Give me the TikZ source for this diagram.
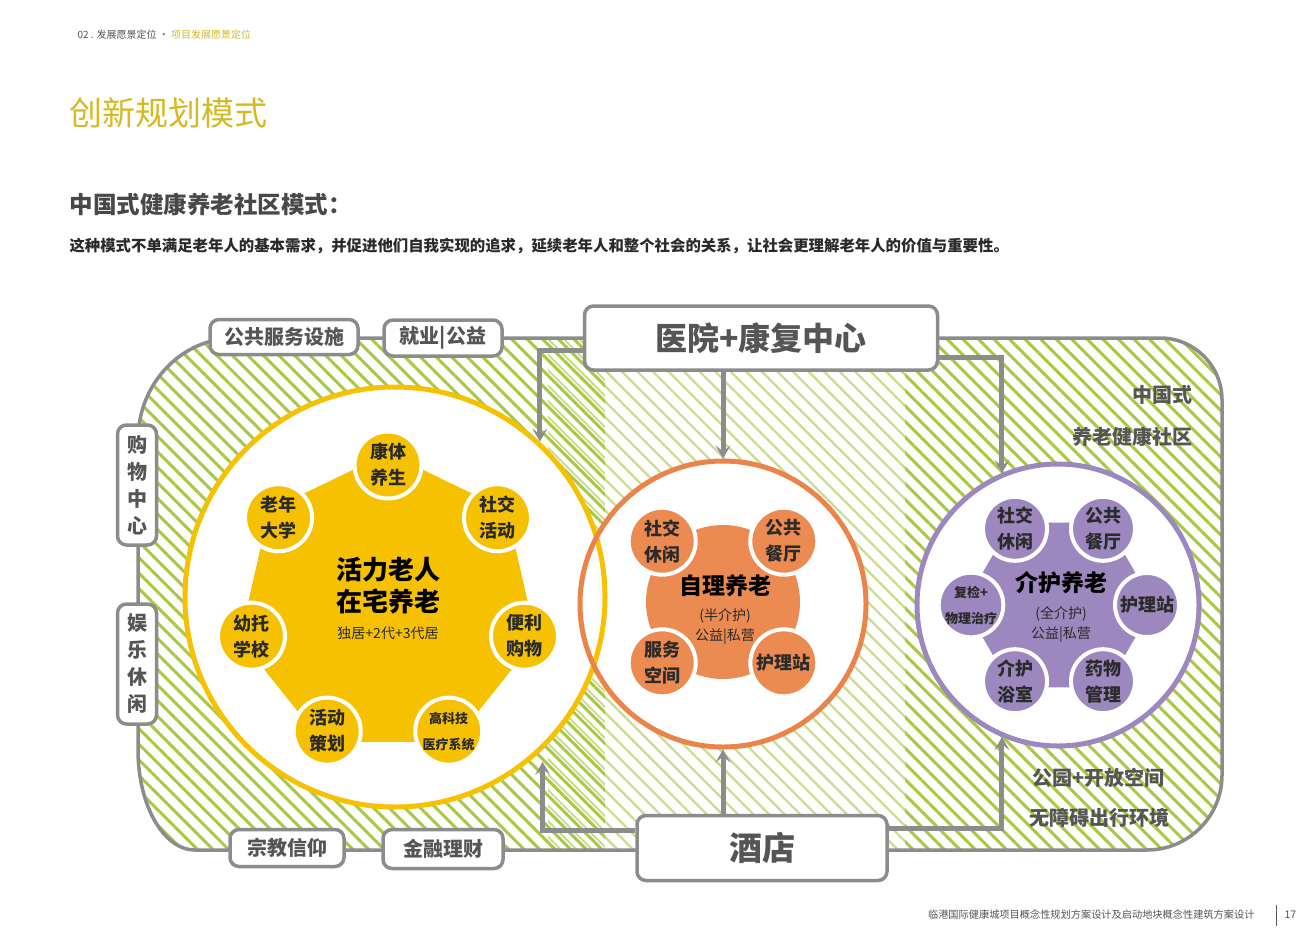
\documentclass[tikz,border=0pt]{standalone}
\usepackage{fontspec}
\setmainfont{Noto Sans CJK SC}
\usetikzlibrary{arrows.meta, patterns.meta, calc}

\definecolor{cgray}{HTML}{8C8C8C}
\definecolor{ctext}{HTML}{555555}
\definecolor{cdark}{HTML}{2A2A2A}
\definecolor{cgold}{HTML}{D6B923}
\definecolor{cyel}{HTML}{F6C100}
\definecolor{corange}{HTML}{EA8448}
\definecolor{cpurple}{HTML}{9C87BE}
\definecolor{chatch}{HTML}{A9C843}
\definecolor{chatchlt}{HTML}{C9DD8C}

\newcommand{\fsz}[2]{\fontsize{#1}{#2}\selectfont}
\newcommand{\sm}{\bfseries\fsz{13}{18}}
\newcommand{\communitypath}{(138,440) arc[start angle=180,end angle=270,x radius=97,y radius=102]
  -- (1160,338) arc[start angle=270,end angle=360,x radius=62,y radius=62]
  -- (1222,775) arc[start angle=0,end angle=90,x radius=75,y radius=75]
  -- (195,850) arc[start angle=90,end angle=180,x radius=57,y radius=100] -- cycle}

\begin{document}
\begin{tikzpicture}[
    x=1pt, y=-1pt,
    >={Stealth[length=13pt,width=15pt,inset=6pt]},
    flow/.style={->, cgray, line width=5pt},
    box/.style={draw=cgray, line width=3.5pt, fill=white, rounded corners=9pt,
      inner sep=0pt, text=ctext, font=\bfseries\fsz{20}{27}, align=center},
    ring/.style={circle, inner sep=0pt, line width=5pt},
    sat/.style={circle, draw=white, line width=4pt, inner sep=0pt, minimum size=#1,
      text=cdark, font=\bfseries\fsz{18}{26}, align=center},
    side/.style={text=ctext, font=\bfseries\fsz{20}{24}, anchor=east},
  ]
  \fill[white] (0,0) rectangle (1300,932);
  \useasboundingbox (0,0) rectangle (1300,932);

  %% ---- page heading -------------------------------------------------
  \node[anchor=west, text=ctext, font=\fsz{10}{12}] (crumb) at (74,35)
    {02 . 发展愿景定位 · \textcolor{cgold}{项目发展愿景定位}};
  \node[anchor=west, text=cgold, font=\fsz{33}{38}] (title) at (66,113) {创新规划模式};
  \node[anchor=west, text=ctext!85!black, font=\bfseries\fsz{23.5}{28}] (subtitle) at (66,204)
    {中国式健康养老社区模式：};
  \node[anchor=west, text=cdark, font=\bfseries\fsz{15.4}{18}] (intro) at (66,246)
    {这种模式不单满足老年人的基本需求，并促进他们自我实现的追求，延续老年人和整个社会的关系，让社会更理解老年人的价值与重要性。};

  %% ---- community ground ---------------------------------------------
  \fill[pattern={Lines[angle=-45,distance=11pt,line width=3pt]}, pattern color=chatch]
    \communitypath;
  \begin{scope}
    \clip \communitypath;
    \fill[pattern={Lines[angle=-45,distance=11pt,line width=2pt,xshift=5.5pt]},
      pattern color=chatchlt] (548,330) rectangle (605,860);
    \fill[white] (605,330) rectangle (905,860);
    \fill[pattern={Lines[angle=-45,distance=11pt,line width=2.2pt]}, pattern color=chatchlt]
      (605,330) rectangle (905,860);
  \end{scope}
  \draw[cgray, line width=3.5pt] \communitypath;

  %% ---- three rings --------------------------------------------------
  \fill[white] (395,597) circle[radius=210] (723,604) circle[radius=143]
    (1058,605) circle[radius=141];
  \node[ring, draw=cyel, minimum size=420pt] (yring) at (395,597) {};
  \node[ring, draw=corange, minimum size=286pt] (oring) at (723,604) {};
  \node[ring, draw=cpurple, minimum size=282pt] (pring) at (1058,605) {};

  %% ---- active elderly at home ---------------------------------------
  \coordinate (ycore) at (388,605);
  \fill[cyel] ($(ycore)+(-90:152)$)
    \foreach \k in {1,...,6} { -- ($(ycore)+(-90+\k*51.43:152)$) } -- cycle;
  \foreach \txt [count=\k from 0] in {{康体\\养生}, {社交\\活动}, {便利\\购物},
      {\sm 高科技\\\sm 医疗系统}, {活动\\策划}, {幼托\\学校}, {老年\\大学}}
    \node[sat=67pt, fill=cyel] (ys\k) at ($(ycore)+(-90+\k*51.43:140)$) {\txt};
  \node[text=black, font=\bfseries\fsz{26}{32}, align=center] (ytitle) at (388,586)
    {活力老人\\在宅养老};
  \node[text=cdark, font=\fsz{14}{16}] (ysub) at (388,633) {独居+2代+3代居};

  %% ---- self-care -----------------------------------------------------
  \node[circle, fill=corange!95!white, inner sep=0pt, minimum size=154pt] (ocore) at (723,602) {};
  \foreach \txt/\ang [count=\k] in {{社交\\休闲}/-135, {公共\\餐厅}/-45,
      {护理站}/45, {服务\\空间}/135}
    \node[sat=67pt, fill=corange!95!white] (os\k) at ($(ocore)+(\ang:86)$) {\txt};
  \node[text=black, font=\bfseries\fsz{23}{28}] (otitle) at (725,586) {自理养老};
  \node[text=cdark, font=\fsz{14}{20}, align=center] (osub) at (725,627) {(半介护)\\公益|私营};

  %% ---- assisted care -----------------------------------------------
  \coordinate (pcore) at (1059,605);
  \fill[cpurple] ($(pcore)+(0:95)$)
    \foreach \k in {1,...,5} { -- ($(pcore)+(\k*60:95)$) } -- cycle;
  \foreach \txt [count=\k from 0] in {{社交\\休闲}, {公共\\餐厅}, {护理站},
      {药物\\管理}, {介护\\浴室}, {\sm 复检+\\\sm 物理治疗}}
    \node[sat=64pt, fill=cpurple] (ps\k) at ($(pcore)+(-120+\k*60:88)$) {\txt};
  \node[text=black, font=\bfseries\fsz{23}{28}] (ptitle) at (1061,583) {介护养老};
  \node[text=cdark, font=\fsz{14}{20}, align=center] (psub) at (1061,624) {(全介护)\\公益|私营};

  %% ---- supply arrows -----------------------------------------------
  \node[box, minimum width=353pt, minimum height=64pt, font=\bfseries\fsz{32}{36}]
    (hosp) at (761,338) {医院+康复中心};
  \node[box, minimum width=250pt, minimum height=65pt, font=\bfseries\fsz{33}{36}]
    (hotel) at (762,848) {酒店};

  \draw[flow] ([yshift=-12pt]hosp.west) -| (yring.47);
  \draw[flow] (hosp.south -| oring.north) -- (oring.north);
  \draw[flow] ([yshift=-19pt]hosp.east) -| (pring.113);
  \draw[flow, shorten >=12pt] ([yshift=18pt]hotel.west) -| (yring.-46);
  \draw[flow] (hotel.north -| oring.south) -- (oring.south);
  \draw[flow] ([yshift=20pt]hotel.east) -| (pring.-113);

  %% ---- services on the edge ----------------------------------------
  \node[box, minimum width=148pt, minimum height=35pt] (public) at (284,337) {公共服务设施};
  \node[box, minimum width=118pt, minimum height=36pt] (jobs) at (443,338) {就业|公益};
  \node[box, minimum width=39pt, minimum height=120pt] (shop) at (137,485) {购\\物\\中\\心};
  \node[box, minimum width=39pt, minimum height=120pt] (leisure) at (137,664) {娱\\乐\\休\\闲};
  \node[box, minimum width=114pt, minimum height=37pt] (faith) at (287,848) {宗教信仰};
  \node[box, minimum width=120pt, minimum height=39pt] (finance) at (443,849) {金融理财};

  \node[side] (cn1) at (1196,395) {中国式};
  \node[side] (cn2) at (1196,437) {养老健康社区};
  \node[side] (park) at (1168,778) {公园+开放空间};
  \node[side] (access) at (1173,818) {无障碍出行环境};

  %% ---- footer --------------------------------------------------------
  \node[anchor=east, text=ctext, font=\fsz{10.2}{12}] (foot) at (1258,915)
    {临港国际健康城项目概念性规划方案设计及启动地块概念性建筑方案设计};
  \draw[ctext, line width=0.8pt] (1276,905) -- (1276,926);
  \node[anchor=west, text=ctext, font=\fsz{10.5}{12}] (page) at (1281,915) {17};
\end{tikzpicture}
\end{document}
